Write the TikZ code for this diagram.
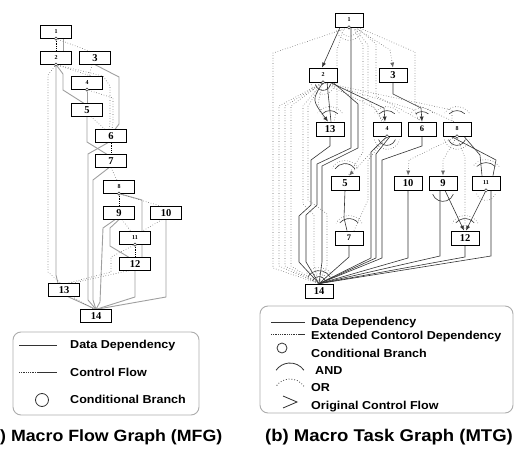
\documentclass[tikz,border=0pt]{standalone}
\usepackage{fontspec}
\setmainfont{Liberation Serif}
\newfontfamily\labelfont{Liberation Sans}[FakeStretch=1.09]
\usepackage{tikz}
\usetikzlibrary{arrows.meta, backgrounds}

% arc over the edges that meet at a node: [style]{centre}{start}{end}{radius}
\newcommand{\joinarc}[5][dep]{%
  \draw[#1] (#2) ++(#3:#5) arc[start angle=#3, end angle=#4, radius=#5];}

\tikzset{
  flowbox/.style={rectangle, draw=black, fill=white, line width=0.8pt,
    minimum width=31pt, minimum height=12.5pt, inner sep=0pt,
    font=\fontsize{10.5}{11}\selectfont\bfseries},
  flowboxS/.style={flowbox, font=\fontsize{6}{7}\selectfont\bfseries},
  taskbox/.style={flowbox, minimum width=28pt, minimum height=14pt},
  taskboxS/.style={taskbox, font=\fontsize{6}{7}\selectfont\bfseries},
  taskboxM/.style={taskbox, font=\fontsize{8.5}{9}\selectfont\bfseries},
  cbr/.style={circle, draw=black!80, fill=white, line width=0.5pt,
    minimum size=3.4pt, inner sep=0pt},
  dat/.style={draw=gray!75, line width=0.9pt},
  dep/.style={draw=black!80, line width=0.6pt},
  ctl/.style={draw=black!60, dotted, line width=0.6pt},
  ctlB/.style={draw=black, densely dotted, line width=0.9pt},
  arr/.style={-{Latex[length=5pt,width=4pt]}},
  legbox/.style={draw=gray!65, line width=0.9pt, rounded corners=8pt},
  legsym/.style={draw=black!80, line width=0.8pt},
  legtxt/.style={anchor=base west, inner sep=0pt,
    font=\labelfont\bfseries\fontsize{11.5}{13}\selectfont},
  capt/.style={inner sep=0pt, font=\labelfont\bfseries\fontsize{17}{20}\selectfont},
}

\begin{document}
\begin{tikzpicture}[x=1pt, y=-1pt]
  \useasboundingbox (0,0) rectangle (515,450);

  % ---- (a) Macro Flow Graph ----
  \node[flowboxS] (f1)  at (56,32)   {1};
  \node[flowboxS] (f2)  at (56,58)   {2};
  \node[flowbox]  (f3)  at (95,58)   {3};
  \node[flowboxS] (f4)  at (87,83)   {4};
  \node[flowbox]  (f5)  at (87,110)  {5};
  \node[flowbox]  (f6)  at (111,136) {6};
  \node[flowbox]  (f7)  at (111,161) {7};
  \node[flowboxS] (f8)  at (119,187) {8};
  \node[flowbox]  (f9)  at (119,213) {9};
  \node[flowbox]  (f10) at (166,213) {10};
  \node[flowboxS] (f11) at (135,238) {11};
  \node[flowbox]  (f12) at (135,264) {12};
  \node[flowbox]  (f13) at (64,290)  {13};
  \node[flowbox]  (f14) at (96,316)  {14};

  \node[cbr] (fb1)  at (f1.south)  {};
  \node[cbr] (fb2)  at (f2.south)  {};
  \node[cbr] (fb4)  at (f4.south)  {};
  \node[cbr] (fb8)  at (f8.south)  {};
  \node[cbr] (fb11) at (f11.south) {};

  % ---- (b) Macro Task Graph ----
  \node[taskboxS] (t1)  at (349,20)  {1};
  \node[taskboxS] (t2)  at (323,75)  {2};
  \node[taskbox]  (t3)  at (393,75)  {3};
  \node[taskbox]  (t13) at (330,129) {13};
  \node[taskboxS] (t4)  at (387,129) {4};
  \node[taskboxM] (t6)  at (422,129) {6};
  \node[taskboxS] (t8)  at (457,129) {8};
  \node[taskbox]  (t5)  at (345,183) {5};
  \node[taskbox]  (t10) at (408,183) {10};
  \node[taskbox]  (t9)  at (443,183) {9};
  \node[taskboxS] (t11) at (486,183) {11};
  \node[taskboxM] (t7)  at (349,238) {7};
  \node[taskbox]  (t12) at (465,238) {12};
  \node[taskbox]  (t14) at (319,291) {14};

  \node[cbr] (tb1)  at (t1.south)  {};
  \node[cbr] (tb2)  at (t2.south)  {};
  \node[cbr] (tb4)  at (t4.south)  {};
  \node[cbr] (tb8)  at (t8.south)  {};
  \node[cbr] (tb11) at (t11.south) {};

  \begin{scope}[on background layer]
  % ---- MFG: data dependency ----
  \draw[dat] ([xshift=7pt]f1.south) -- ([xshift=7pt]f2.north);
  \draw[dat] (fb2) -- (56,275) -- ([xshift=-6pt]f13.north);
  \draw[dat] (fb2) -- (63,74) -- (63,90) -- ([xshift=-3pt]f5.north);
  \draw[dat] (f3.south) -- (119,77) -- (119,124) -- ([xshift=4pt]f6.north);
  \draw[dat] (fb4) -- (f5.north);
  \draw[dat] (f5.south) -- (87,142) -- ([xshift=-4pt]f7.north);
  \draw[dat] ([xshift=-3pt]f6.south) -- (88,154) -- (88,300) -- (f14.north);
  \draw[dat] ([xshift=-2pt]f7.south) -- (93,180) -- (93,300) -- (f14.north);
  \draw[dat] (fb8) -- (142,200) -- ([xshift=7pt]f12.north);
  \draw[dat] (f9.south) -- (110,228) -- (110,246) -- ([xshift=-6pt]f12.north);
  \draw[dat] ([xshift=-4pt]f9.south) -- (103,228) -- (100,302) -- (f14.north);
  \draw[dat] (f10.south) -- (166,297) -- (f14.north);
  \draw[dat] (f12.south) -- (135,297) -- (f14.north);
  \draw[dat] ([xshift=4pt]f13.south) -- (f14.north);

  % ---- MFG: control flow ----
  \draw[ctlB] (fb1) -- (f2.north);
  \draw[ctlB] (f6.south) -- (f7.north);
  \draw[ctlB] (fb8) -- (f9.north);
  \draw[ctlB] (fb11) -- (f12.north);
  \draw[ctl] (fb1) -- ([xshift=-5pt]f3.north);
  \draw[ctl] (fb2) -- (48,75) -- (48,272) -- ([xshift=-3pt]f13.north);
  \draw[ctl] (fb2) -- ([xshift=5pt]f4.north);
  \draw[ctl] (fb2) -- (103,76) -- (110,86) -- (110,122) -- ([xshift=-2pt]f6.north);
  \draw[ctl] ([xshift=-3pt]f3.south) -- ([xshift=2pt]f4.north);
  \draw[ctl] (fb4) -- (113,98) -- (113,122) -- ([xshift=1pt]f6.north);
  \draw[ctl] ([xshift=4pt]f5.south) -- ([xshift=-6pt]f6.north);
  \draw[ctl] (f7.south) -- ([xshift=-2pt]f8.north);
  \draw[ctl] (fb8) -- ([xshift=-4pt]f10.north);
  \draw[ctl] ([xshift=3pt]f9.south) -- ([xshift=-4pt]f11.north);
  \draw[ctl] ([xshift=-4pt]f10.south) -- ([xshift=7pt]f11.north);
  \draw[ctl] (fb11) -- (111,257) -- (111,272) -- ([xshift=3pt]f13.north);
  \draw[ctl] ([xshift=-6pt]f12.south) -- ([xshift=7pt]f13.north);
  \draw[ctl] ([xshift=8pt]f13.south) -- ([xshift=-2pt]f14.north);

  % ---- MTG: data dependency ----
  \draw[dep, arr] ([xshift=-9pt]t1.south) -- ([xshift=-1pt]t2.north);
  \draw[dep] ([xshift=2pt]t1.south) -- (351,148) -- (317,164) -- (317,205)
             -- (306,215) -- (306,262) -- (t14.north);
  \draw[dep, arr] (tb2) .. controls (312,100) .. ([xshift=-2pt]t13.north);
  \draw[dep] ([xshift=4pt]t2.south) -- ([xshift=1pt]t13.north);
  \draw[dep, arr] ([xshift=7pt]t2.south) -- (384,108) -- ([xshift=-2pt]t4.north);
  \draw[dep] ([xshift=10pt]t2.south) -- (358,104) -- (358,148) -- (322,166)
             -- (322,262) -- (t14.north);
  \draw[dep, arr] (t3.south) -- (393,94) -- (421,108) -- (t6.north);
  \draw[dep] (t13.south) -- (330,146) -- (311,160) -- (311,205) -- (299,216)
             -- (299,262) -- (t14.north);
  \draw[dep] (tb4) -- (371,152) -- (371,258) -- (t14.north);
  \draw[dep] ([xshift=3pt]t4.south) -- (376,154) -- (376,258) -- (t14.north);
  \draw[dep] (t6.south) -- (422,146) -- (382,160) -- (382,258) -- (t14.north);
  \draw[dep] (t5.south) -- (344,218) -- ([xshift=-2pt]t7.north);
  \draw[dep] (t7.south) -- (349,257) -- (t14.north);
  \draw[dep] (t10.south) -- (408,258) -- (t14.north);
  \draw[dep] ([xshift=-3pt]t9.south) -- (440,256) -- (t14.north);
  \draw[dep, arr] ([xshift=2pt]t9.south) -- ([xshift=-1pt]t12.north);
  \draw[dep, arr] (tb11) -- ([xshift=1pt]t12.north);
  \draw[dep] (t12.south) -- (465,257) -- (t14.north);
  \draw[dep] ([xshift=5pt]t11.south) -- (491,256) -- (t14.north);
  \draw[dep] ([xshift=-6pt]t8.south) -- (496,160) -- ([xshift=7pt]t11.north);
  \draw[dep] ([xshift=7pt]t8.south) -- (480,155) -- ([xshift=-4pt]t11.north);

  % ---- MTG: extended control dependency ----
  \draw[ctl] (tb1) -- (273,53) -- (273,268) -- (t14.north);
  \draw[ctl, arr] ([xshift=6pt]t1.south) -- (390,50) -- (t3.north);
  \draw[ctl] ([xshift=9pt]t1.south) -- (415,52) -- (415,104) -- ([xshift=-3pt]t8.north);
  \draw[ctl] ([xshift=-5pt]t1.south) -- (337,50) -- (337,108) -- ([xshift=4pt]t13.north);
  \draw[ctl] ([xshift=4pt]t1.south) -- (363,45) -- (363,152) -- ([xshift=3pt]t5.north);
  \draw[ctl] ([xshift=5pt]t1.south) -- (368,45) -- (368,100) -- ([xshift=-3pt]t4.north);
  \draw[ctl] ([xshift=7pt]t1.south) -- (376,44) -- (376,96) -- ([xshift=1pt]t6.north);
  \draw[ctl] (tb2) -- (279,106) -- (279,266) -- (t14.north);
  \draw[ctl] (tb2) -- (285,106) -- (285,266) -- (t14.north);
  \draw[ctl] (tb2) -- (291,106) -- (291,266) -- (t14.north);
  \draw[ctl] (tb2) -- (303,106) -- (303,204) -- (314,215) -- (314,266) -- (t14.north);
  \draw[ctl] (tb2) -- (308,106) -- (308,200) -- (327,214) -- (327,266) -- (t14.north);
  \draw[ctl] (tb2) -- (318,104) -- ([xshift=-5pt]t13.north);
  \draw[ctl] (tb2) -- (375,108) -- ([xshift=-5pt]t4.north);
  \draw[ctl] (tb2) -- (415,110) -- ([xshift=-3pt]t6.north);
  \draw[ctl] (tb2) -- (452,110) -- ([xshift=-5pt]t8.north);
  \draw[ctl, arr] (tb4) -- ([xshift=4pt]t5.north);
  \draw[ctl] (tb4) -- (368,160) -- (368,200) -- ([xshift=5pt]t7.north);
  \draw[ctl, arr] (tb8) -- (409,160) -- (t10.north);
  \draw[ctl, arr] (tb8) -- (443,160) -- (t9.north);
  \draw[ctl] (tb8) -- (465,158) -- (t12.north);

  % ---- MTG: AND / OR arcs ----
  \joinarc{t13.north}{45}{135}{11pt}   \joinarc[ctl]{t13.north}{35}{145}{15pt}
  \joinarc{t4.north}{45}{135}{11pt}    \joinarc[ctl]{t4.north}{35}{145}{15pt}
  \joinarc{t6.north}{50}{130}{10pt}    \joinarc[ctl]{t6.north}{40}{140}{14pt}
  \joinarc{t8.north}{45}{135}{11pt}    \joinarc[ctl]{t8.north}{35}{145}{15pt}
  \joinarc{t5.north}{35}{145}{12pt}    \joinarc[ctl]{t5.north}{30}{150}{15pt}
  \joinarc{t7.north}{40}{140}{12pt}    \joinarc[ctl]{t7.north}{30}{150}{15pt}
  \joinarc{t12.north}{40}{140}{12pt}   \joinarc[ctl]{t12.north}{30}{150}{15pt}
  \joinarc{t11.north}{45}{135}{13pt}   \joinarc[ctl]{t11.north}{35}{145}{16pt}
  \joinarc[ctl]{tb1.center}{200}{340}{9pt}
  \joinarc[ctl]{tb1.center}{195}{345}{13pt}
  \joinarc{tb2.center}{195}{345}{8pt}  \joinarc[ctl]{tb2.center}{190}{350}{12pt}
  \joinarc{tb4.center}{200}{340}{9pt}  \joinarc[ctl]{tb4.center}{195}{345}{13pt}
  \joinarc{tb8.center}{200}{340}{9pt}  \joinarc[ctl]{tb8.center}{195}{345}{13pt}
  \joinarc{t9.south}{200}{340}{11pt}
  \joinarc[ctl]{tb11.center}{200}{340}{10pt}
  \joinarc{t14.north}{25}{155}{7pt}    \joinarc[ctl]{t14.north}{25}{155}{10pt}
  \joinarc{t14.north}{30}{150}{13pt}   \joinarc[ctl]{t14.north}{35}{145}{16pt}
  \end{scope}

  % ---- legends ----
  \node[legbox, minimum width=186pt, minimum height=83pt] (legA) at (106,373.5) {};
  \node[legtxt] (la1) at (70,348)   {Data Dependency};
  \node[legtxt] (la2) at (70,376)   {Control Flow};
  \node[legtxt] (la3) at (70,403.5) {Conditional Branch};
  \draw[legsym] ([xshift=-51pt, yshift=3pt]la1.base west) -- ([xshift=-13pt, yshift=3pt]la1.base west);
  \draw[legsym, densely dotted] ([xshift=-51pt, yshift=3.7pt]la2.base west) -- ([xshift=-32pt, yshift=3.7pt]la2.base west);
  \draw[legsym] ([xshift=-32pt, yshift=3.7pt]la2.base west) -- ([xshift=-13pt, yshift=3.7pt]la2.base west);
  \draw[legsym] ([xshift=-28pt, yshift=3.5pt]la3.base west) circle[radius=6.5pt];

  \node[legbox, minimum width=253pt, minimum height=107pt] (legB) at (386.5,359.5) {};
  \node[legtxt] (lb1) at (311,325.5) {Data Dependency};
  \node[legtxt] (lb2) at (311,339)   {Extended Contorol Dependency};
  \node[legtxt] (lb3) at (311,357)   {Conditional Branch};
  \node[legtxt] (lb4) at (315,374)   {AND};
  \node[legtxt] (lb5) at (311,391)   {OR};
  \node[legtxt] (lb6) at (311,409)   {Original Control Flow};
  \draw[legsym] ([xshift=-40pt, yshift=3.5pt]lb1.base west) -- ([xshift=-6pt, yshift=3.5pt]lb1.base west);
  \draw[legsym, densely dotted] ([xshift=-40pt, yshift=4.3pt]lb2.base west) -- ([xshift=-13pt, yshift=4.3pt]lb2.base west);
  \draw[legsym] ([xshift=-13pt, yshift=4.3pt]lb2.base west) -- ([xshift=-6pt, yshift=4.3pt]lb2.base west);
  \draw[legsym] ([xshift=-29pt, yshift=9pt]lb3.base west) circle[radius=5pt];
  \joinarc[legsym]{[xshift=-25pt, yshift=-6pt]lb4.base west}{35}{145}{17pt}
  \joinarc[legsym, dotted]{[xshift=-21pt, yshift=-5pt]lb5.base west}{35}{145}{17pt}
  \draw[legsym] ([xshift=-28pt, yshift=13pt]lb6.base west) -- ([xshift=-14pt, yshift=7pt]lb6.base west)
                -- ([xshift=-28pt, yshift=1pt]lb6.base west);

  % ---- captions ----
  \node[capt, anchor=base west, font=\labelfont\bfseries\fontsize{16.3}{19}\selectfont] (capA)
       at (0,441) {) Macro Flow Graph (MFG)};
  \node[capt, anchor=base] (capB) at (389,441) {(b) Macro Task Graph (MTG)};
\end{tikzpicture}
\end{document}
